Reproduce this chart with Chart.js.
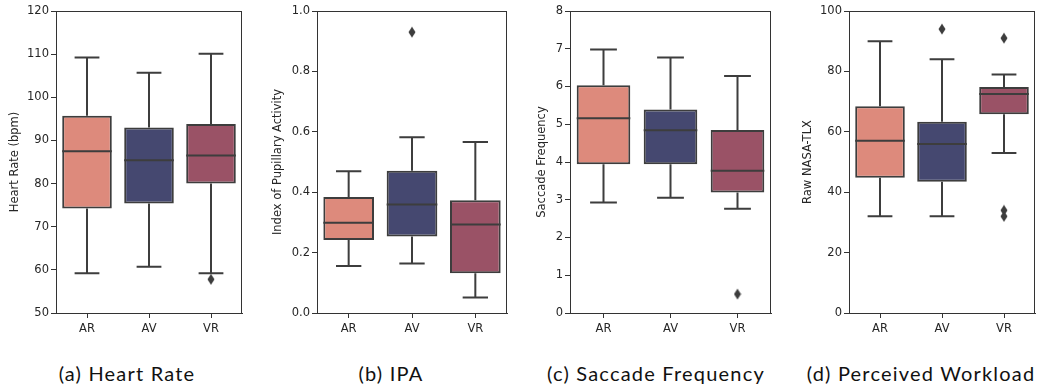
<!DOCTYPE html>
<html>
<head>
<meta charset="utf-8">
<script src="https://cdn.jsdelivr.net/npm/chart.js@4/dist/chart.umd.min.js"></script>
<style>
  html, body { margin: 0; padding: 0; background: #ffffff; }
  body { width: 1043px; height: 390px; position: relative; overflow: hidden; }
  .panel { position: absolute; top: 0; height: 340px; }
  .cap { position: absolute; top: 361px; font-family: Lato, "Open Sans", sans-serif; font-size: 20px; letter-spacing: 1.2px; color: #111; white-space: nowrap; transform: translateX(-50%); }
</style>
</head>
<body>
<div class="panel" id="p1" style="left:0px;width:248px;"><canvas id="c1"></canvas></div>
<div class="panel" id="p2" style="left:260px;width:253px;"><canvas id="c2"></canvas></div>
<div class="panel" id="p3" style="left:520px;width:257px;"><canvas id="c3"></canvas></div>
<div class="panel" id="p4" style="left:780px;width:261px;"><canvas id="c4"></canvas></div>
<div class="cap" style="left:127px;">(a) Heart Rate</div>
<div class="cap" style="left:391px;">(b) IPA</div>
<div class="cap" style="left:656px;">(c) Saccade Frequency</div>
<div class="cap" style="left:921px;">(d) Perceived Workload</div>
<script>
// ---- categories & colours ----
const groups = ['AR', 'AV', 'VR'];
const boxColors = ['#dd8a7c', '#454870', '#9a5266'];

// ---- (a) Heart Rate ----
const hrMin = [59.2, 60.7, 59.2];
const hrQ1  = [74.2, 75.4, 80.0];
const hrMed = [87.5, 85.4, 86.5];
const hrQ3  = [95.7, 93.0, 93.8];
const hrMax = [109.2, 105.7, 110.1];
const hrOutGroups = ['VR'];
const hrOutValues = [57.8];
const hrTicks = [50, 60, 70, 80, 90, 100, 110, 120];

// ---- (b) IPA ----
const ipaMin = [0.156, 0.164, 0.051];
const ipaQ1  = [0.242, 0.253, 0.132];
const ipaMed = [0.299, 0.359, 0.293];
const ipaQ3  = [0.384, 0.471, 0.373];
const ipaMax = [0.469, 0.582, 0.566];
const ipaOutGroups = ['AV'];
const ipaOutValues = [0.930];
const ipaTicks = [0.0, 0.2, 0.4, 0.6, 0.8, 1.0];

// ---- (c) Saccade Frequency ----
const sacMin = [2.93, 3.05, 2.76];
const sacQ1  = [3.94, 3.94, 3.19];
const sacMed = [5.16, 4.84, 3.77];
const sacQ3  = [6.03, 5.39, 4.85];
const sacMax = [6.98, 6.77, 6.28];
const sacOutGroups = ['VR'];
const sacOutValues = [0.50];
const sacTicks = [0, 1, 2, 3, 4, 5, 6, 7, 8];

// ---- (d) Perceived Workload ----
const tlxMin = [32.0, 32.0, 53.0];
const tlxQ1  = [44.8, 43.5, 65.8];
const tlxMed = [57.0, 56.0, 72.5];
const tlxQ3  = [68.5, 63.3, 74.8];
const tlxMax = [90.0, 84.0, 79.0];
const tlxOutGroups = ['AV', 'VR', 'VR', 'VR'];
const tlxOutValues = [94.0, 91.0, 34.0, 32.0];
const tlxTicks = [0, 20, 40, 60, 80, 100];

const EDGE = '#3d3d3d';
const TXT = '#262626';
const FONT = 'DejaVu Sans';

// thin diamond marker (seaborn 'd')
function makeDiamond() {
  const c = document.createElement('canvas');
  c.width = 8; c.height = 12;
  const g = c.getContext('2d');
  g.fillStyle = EDGE;
  g.beginPath();
  g.moveTo(4, 0.5); g.lineTo(7.5, 6); g.lineTo(4, 11.5); g.lineTo(0.5, 6);
  g.closePath(); g.fill();
  return c;
}
const diamond = makeDiamond();

function makePanel(id, opt) {
  const boxPlugin = {
    id: 'boxparts_' + id,
    afterDatasetsDraw(chart) {
      const ctx = chart.ctx;
      const ys = chart.scales.y;
      const meta = chart.getDatasetMeta(0);
      ctx.save();
      ctx.strokeStyle = EDGE;
      ctx.lineWidth = 2;
      meta.data.forEach((bar, i) => {
        const x = bar.x, w = bar.width;
        const yMin = ys.getPixelForValue(opt.min[i]);
        const yMax = ys.getPixelForValue(opt.max[i]);
        const yQ1 = ys.getPixelForValue(opt.q1[i]);
        const yQ3 = ys.getPixelForValue(opt.q3[i]);
        const yMed = ys.getPixelForValue(opt.med[i]);
        ctx.beginPath();
        ctx.moveTo(x, yQ3); ctx.lineTo(x, yMax);
        ctx.moveTo(x, yQ1); ctx.lineTo(x, yMin);
        ctx.moveTo(x - w / 4, yMax); ctx.lineTo(x + w / 4, yMax);
        ctx.moveTo(x - w / 4, yMin); ctx.lineTo(x + w / 4, yMin);
        ctx.moveTo(x - w / 2, yMed); ctx.lineTo(x + w / 2, yMed);
        ctx.stroke();
      });
      ctx.restore();
    },
    afterDraw(chart) {
      const a = chart.chartArea;
      const ctx = chart.ctx;
      ctx.save();
      ctx.strokeStyle = '#333333';
      ctx.lineWidth = 1;
      ctx.strokeRect(Math.round(a.left) + 0.5, Math.round(a.top) + 0.5,
                     Math.round(a.right - a.left) - 1, Math.round(a.bottom - a.top));
      ctx.restore();
    }
  };

  const boxes = groups.map((g, i) => [opt.q1[i], opt.q3[i]]);
  const outliers = opt.outGroups.map((g, i) => ({ x: g, y: opt.outValues[i] }));

  return new Chart(document.getElementById(id), {
    type: 'bar',
    data: {
      labels: groups,
      datasets: [
        {
          type: 'bar',
          data: boxes,
          backgroundColor: boxColors,
          borderColor: EDGE,
          borderWidth: 2,
          borderSkipped: false,
          barPercentage: 0.8,
          categoryPercentage: 1.0,
          order: 2
        },
        {
          type: 'line',
          data: outliers,
          showLine: false,
          pointStyle: diamond,
          pointRadius: 5,
          order: 1
        }
      ]
    },
    options: {
      responsive: true,
      maintainAspectRatio: false,
      animation: false,
      events: [],
      layout: { padding: { top: 11, right: 0, bottom: 0, left: 0 } },
      plugins: { legend: { display: false }, tooltip: { enabled: false } },
      scales: {
        x: {
          type: 'category',
          offset: true,
          grid: { display: true, drawOnChartArea: false, drawTicks: true, tickLength: 5, color: '#333333', offset: false },
          border: { display: true, color: '#333333', width: 1 },
          ticks: { color: TXT, font: { family: FONT, size: 11.5 }, padding: 4, maxRotation: 0 },
          afterFit(s) { s.height = 27; }
        },
        y: {
          min: opt.ticks[0],
          max: opt.ticks[opt.ticks.length - 1],
          afterBuildTicks(s) { s.ticks = opt.ticks.map(v => ({ value: v })); },
          grid: { display: true, drawOnChartArea: false, drawTicks: true, tickLength: 5, color: '#333333' },
          border: { display: true, color: '#333333', width: 1 },
          ticks: {
            color: TXT, font: { family: FONT, size: 11.5 }, padding: 2,
            callback: (v) => opt.fmt(v)
          },
          title: { display: true, text: opt.title, color: TXT, font: { family: FONT, size: 11.5 }, padding: { top: opt.titlePad, bottom: 4 } },
          afterFit(s) { s.width = opt.axisWidth; }
        }
      }
    },
    plugins: [boxPlugin]
  });
}

makePanel('c1', { min: hrMin, q1: hrQ1, med: hrMed, q3: hrQ3, max: hrMax,
  outGroups: hrOutGroups, outValues: hrOutValues, ticks: hrTicks,
  fmt: v => String(v), title: 'Heart Rate (bpm)', axisWidth: 56, titlePad: 8 });
makePanel('c2', { min: ipaMin, q1: ipaQ1, med: ipaMed, q3: ipaQ3, max: ipaMax,
  outGroups: ipaOutGroups, outValues: ipaOutValues, ticks: ipaTicks,
  fmt: v => Number(v).toFixed(1), title: 'Index of Pupillary Activity', axisWidth: 57, titlePad: 11 });
makePanel('c3', { min: sacMin, q1: sacQ1, med: sacMed, q3: sacQ3, max: sacMax,
  outGroups: sacOutGroups, outValues: sacOutValues, ticks: sacTicks,
  fmt: v => String(v), title: 'Saccade Frequency', axisWidth: 50, titlePad: 15 });
makePanel('c4', { min: tlxMin, q1: tlxQ1, med: tlxMed, q3: tlxQ3, max: tlxMax,
  outGroups: tlxOutGroups, outValues: tlxOutValues, ticks: tlxTicks,
  fmt: v => String(v), title: 'Raw NASA-TLX', axisWidth: 69, titlePad: 21 });
</script>
</body>
</html>
